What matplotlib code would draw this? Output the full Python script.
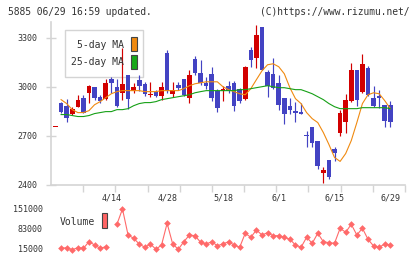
import matplotlib
matplotlib.use('Agg')
import matplotlib.pyplot as plt
from matplotlib.patches import Rectangle
import numpy as np

# daily prices (oldest first)
opens = [2757, 2900, 2884, 2836, 2878, 2933, 2963, 3000, 2939, 2927,
         3049, 3000, 2963, 3073, 2976, 3043, 3018, 2951, 2970, 2945,
         3207, 2957, 3012, 3049, 2933, 3170, 3085, 3024, 3079, 2976,
         2976, 3006, 3024, 2988, 2927, 3225, 3176, 3365, 3091, 3079,
         3024, 2933, 2884, 2854, 2848, 2702, 2757, 2671, 2471, 2550,
         2617, 2720, 2787, 2915, 3103, 2970, 3115, 2933, 2945, 2890, 2890]
highs = [2757, 2906, 2927, 2878, 2951, 2951, 3012, 3000, 2951, 3049,
         3061, 3049, 3237, 3073, 3024, 3073, 3030, 3030, 2982, 3030,
         3225, 3030, 3030, 3049, 3103, 3188, 3164, 3061, 3122, 2988,
         3006, 3036, 3036, 2994, 3128, 3243, 3377, 3365, 3103, 3176,
         3073, 2933, 2933, 2909, 2903, 2732, 2757, 2671, 2507, 2550,
         2629, 2860, 2957, 3146, 3103, 3201, 3128, 3006, 2982, 2890, 2915]
lows = [2757, 2842, 2787, 2830, 2878, 2842, 2903, 2921, 2903, 2921,
        2963, 2878, 2921, 2866, 2963, 2976, 2945, 2939, 2939, 2921,
        2963, 2939, 2982, 2945, 2903, 3073, 3012, 2988, 2915, 2848,
        2915, 2963, 2854, 2903, 2921, 3122, 3115, 3103, 2939, 2988,
        2860, 2775, 2836, 2787, 2836, 2635, 2629, 2495, 2410, 2434,
        2544, 2702, 2720, 2909, 2884, 2963, 2945, 2878, 2872, 2757, 2751]
closes = [2757, 2848, 2811, 2866, 2921, 2842, 3006, 2933, 2915, 3024,
          3024, 2884, 3018, 2927, 3000, 3006, 2957, 2957, 2945, 3000,
          2976, 2982, 2994, 2951, 3073, 3085, 3024, 3006, 2933, 2872,
          2988, 2976, 2884, 2915, 3122, 3164, 3316, 3103, 3006, 2994,
          2890, 2836, 2860, 2842, 2836, 2702, 2659, 2519, 2489, 2446,
          2598, 2842, 2921, 3103, 2921, 3140, 2951, 2884, 2933, 2793, 2787]
up_days = [True, False, False, True, True, False, True, False, False, True,
           False, False, True, False, True, False, False, True, False, True,
           False, True, False, False, True, False, False, False, False, False,
           True, False, False, False, True, False, True, False, False, False,
           False, False, False, False, False, False, False, False, True, False,
           False, True, True, True, False, True, False, False, False, False, False]

ma5 = [np.nan, 2921, 2897, 2860, 2842, 2842, 2854, 2890, 2909, 2933,
       2957, 2970, 2976, 2976, 2976, 2976, 2970, 2970, 2970, 2976,
       2976, 2976, 2976, 2988, 3006, 3018, 3024, 3030, 3030, 3030,
       3000, 2982, 2970, 2957, 2951, 2988, 3043, 3097, 3134, 3140,
       3122, 3079, 2994, 2927, 2897, 2842, 2805, 2781, 2720, 2647,
       2568, 2544, 2592, 2671, 2781, 2897, 2951, 2963, 2957, 2915, 2866]
ma25 = [np.nan, 2830, 2830, 2824, 2818, 2818, 2824, 2836, 2842, 2848,
        2848, 2860, 2860, 2866, 2884, 2897, 2903, 2903, 2909, 2921,
        2927, 2933, 2939, 2945, 2951, 2963, 2970, 2976, 2976, 2976,
        2976, 2976, 2976, 2982, 2982, 2988, 2994, 3000, 3006, 3000,
        2994, 2994, 2988, 2982, 2982, 2970, 2957, 2939, 2921, 2897,
        2878, 2866, 2866, 2866, 2866, 2872, 2872, 2872, 2872, 2872, 2866]

volumes = [np.nan, 17400, 19400, 12600, 19400, 17400, 39800, 28600, 17400, 22800,
           np.nan, 99000, 151000, 62600, 51400, 32000, 20800, 32000, 14000, 28600,
           102400, 32000, 14000, 39800, 62600, 60200, 37800, 32000, 39800, 26200,
           32000, 39800, 28600, 20800, 68400, 54800, 79600, 62600, 70400, 60200,
           60200, 54800, 48000, 28600, 20800, 54800, 34400, 68400, 39800, 36400,
           34400, 85400, 71800, 99000, 62600, 85400, 48000, 25200, 20800, 32000, 28600]

date_pos = [10, 20, 30, 40, 50, 60]
date_labels = ['4/14', '4/28', '5/18', '6/1', '6/15', '6/29']
price_ticks = [2400, 2700, 3000, 3300]
vol_ticks = [15000, 83000, 151000]

RED = '#d20000'
BLUE = '#4343c3'
ORANGE = '#f08a10'
GREEN = '#16a016'
GRID = '#d4d4d4'
TXT = '#333333'
FONT = 'DejaVu Sans Mono'

plt.rcParams['font.family'] = FONT

fig = plt.figure(figsize=(4.2, 2.59), dpi=100)
ax = fig.add_axes([51 / 420, 74 / 259, 354 / 420, 163 / 259])
axv = fig.add_axes([51 / 420, 6 / 259, 354 / 420, 50 / 259])

x = np.arange(len(closes))
xlim = (-0.81, 62.63)

# candles
colors = [RED if u else BLUE for u in up_days]
ax.vlines(x, lows, highs, colors=colors, linewidth=0.85, zorder=2)
bottoms = np.minimum(opens, closes)
heights = np.maximum(np.abs(np.array(closes) - np.array(opens)), 6)
ax.bar(x, heights, bottom=bottoms, width=0.82, color=colors, linewidth=0, zorder=2)

# moving averages
ax.plot(x, ma5, color=ORANGE, linewidth=0.8, zorder=3)
ax.plot(x, ma25, color=GREEN, linewidth=0.8, zorder=3)

ax.set_xlim(*xlim)
ax.set_ylim(2400, 3395)
for s in ['top', 'right']:
    ax.spines[s].set_visible(False)
for s in ['left', 'bottom']:
    ax.spines[s].set_color(GRID)
    ax.spines[s].set_linewidth(1.2)
ax.set_yticks(price_ticks)
ax.set_yticklabels([str(t) for t in price_ticks])
ax.tick_params(axis='y', direction='inout', length=7, width=1, color=GRID,
               labelsize=6, labelcolor=TXT, pad=6)
ax.set_xticks(date_pos)
ax.set_xticklabels(date_labels)
ax.set_xticks(np.linspace(xlim[0], xlim[1], 12)[1:], minor=True)
ax.tick_params(axis='x', which='major', length=0, labelsize=6, labelcolor=TXT, pad=6)
ax.tick_params(axis='x', which='minor', length=5, width=1, color=GRID)

# legend box for MAs
ax.add_patch(Rectangle((14 / 354, 108 / 163), 78 / 354, 47 / 163,
                       transform=ax.transAxes, facecolor='white', edgecolor=GRID,
                       linewidth=1, zorder=1))
fig.text(124 / 420, 1 - 45 / 259, '5-day MA', ha='right', va='center', fontsize=7, color=TXT)
fig.text(124 / 420, 1 - 62 / 259, '25-day MA', ha='right', va='center', fontsize=7, color=TXT)
fig.patches.append(Rectangle((131 / 420, 1 - 51 / 259), 6 / 420, 14 / 259, transform=fig.transFigure,
                             facecolor=ORANGE, edgecolor='#444444', linewidth=0.8, figure=fig))
fig.patches.append(Rectangle((131 / 420, 1 - 69 / 259), 6 / 420, 14 / 259, transform=fig.transFigure,
                             facecolor='#18a818', edgecolor='#444444', linewidth=0.8, figure=fig))

# volume panel
axv.plot(x, volumes, color='#ff6a6a', linewidth=0.8, marker='D', markersize=3.4,
         markeredgewidth=0)
axv.set_xlim(*xlim)
axv.set_ylim(1400, 171400)
for s in axv.spines.values():
    s.set_visible(False)
axv.set_xticks([])
axv.set_yticks(vol_ticks)
axv.set_yticklabels([str(t) for t in vol_ticks])
axv.tick_params(axis='y', length=0, labelsize=6, labelcolor=TXT, pad=6)
fig.text(95 / 420, 1 - 222 / 259, 'Volume', ha='right', va='center', fontsize=7, color=TXT)
fig.patches.append(Rectangle((101.5 / 420, 1 - 228 / 259), 5.5 / 420, 15 / 259, transform=fig.transFigure,
                             facecolor='#ff6464', edgecolor='#444444', linewidth=0.8, figure=fig))

# header
fig.text(8 / 420, 1 - 12 / 259, '5885 06/29 16:59 updated.', ha='left', va='center',
         fontsize=6.9, color=TXT)
fig.text(410 / 420, 1 - 12 / 259, '(C)https://www.rizumu.net/', ha='right', va='center',
         fontsize=6.9, color=TXT)

fig.savefig('out.png', dpi=100)
plt.close(fig)
